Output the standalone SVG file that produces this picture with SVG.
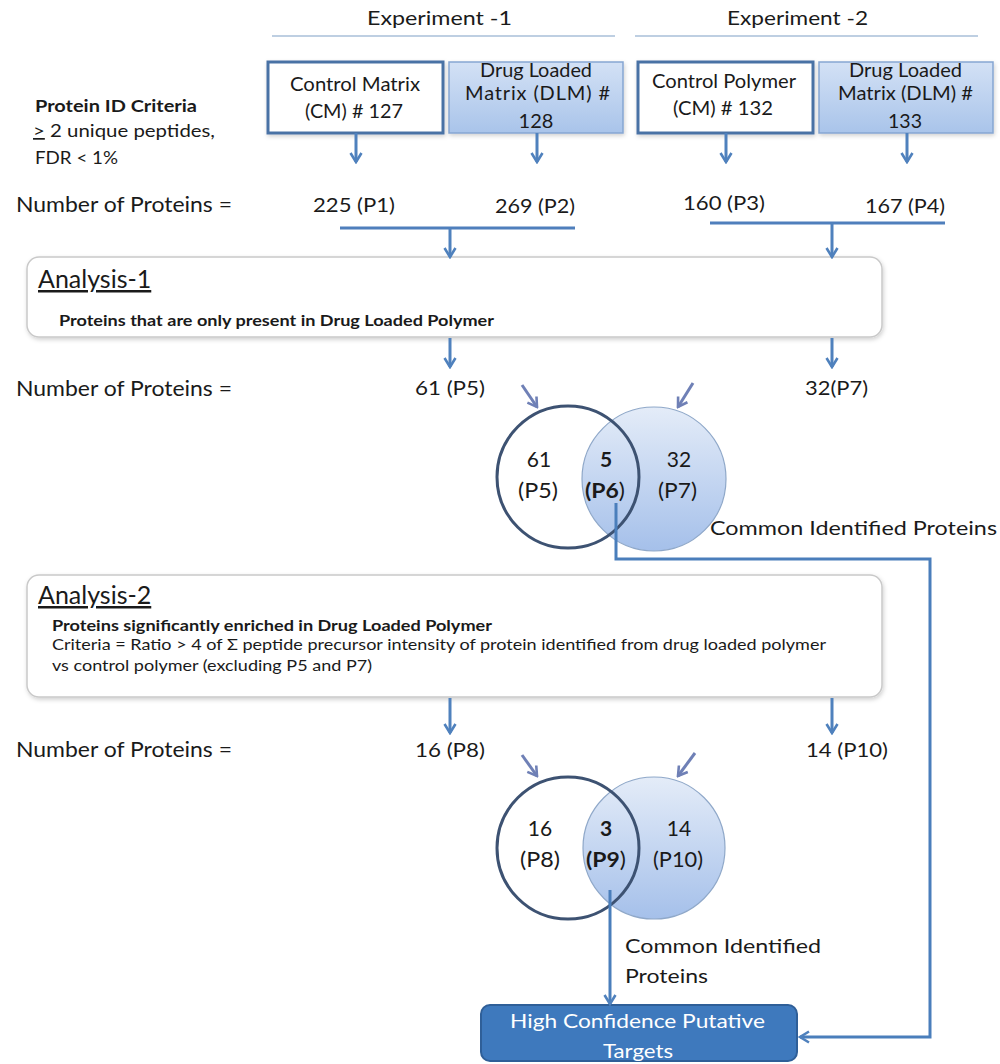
<svg xmlns="http://www.w3.org/2000/svg" width="1000" height="1064" viewBox="0 0 1000 1064">
<defs>
<style>
text{font-family:Lato,"Liberation Sans",sans-serif;fill:#1a1a1a}
.t20{font-size:20px}
.t21{font-size:21px}
.t22{font-size:22px}
.mid{text-anchor:middle}
.b{font-weight:bold}
.hl{stroke:#7f9fc6;stroke-width:1.2}
.obox{fill:#fff;stroke:#4a72a5;stroke-width:3}
.fbox{fill:url(#gBox);stroke:#86a6d2;stroke-width:1.5}
.abox{fill:#fff;stroke:#c9c9c9;stroke-width:1.5}
.arr{stroke:#4f81bd;stroke-width:3;fill:none;marker-end:url(#ah)}
.darr{stroke:#6f80b6;stroke-width:3;fill:none;marker-end:url(#ah2)}
.bar{stroke:#4f7fbc;stroke-width:3;fill:none}
.con{stroke:#4a7ebb;stroke-width:3;fill:none}
</style>
<linearGradient id="gBox" x1="0" y1="0" x2="0" y2="1">
<stop offset="0" stop-color="#d3e1f5"/>
<stop offset="1" stop-color="#a9c4ea"/>
</linearGradient>
<linearGradient id="gCirc" x1="0" y1="0" x2="0" y2="1">
<stop offset="0" stop-color="#e4ecf8"/>
<stop offset="1" stop-color="#a5c0ea"/>
</linearGradient>
<filter id="sh" x="-5%" y="-10%" width="110%" height="130%">
<feDropShadow dx="1" dy="2" stdDeviation="2" flood-color="#000" flood-opacity="0.18"/>
</filter>
<marker id="ah" markerWidth="14" markerHeight="14" viewBox="0 0 14 14" refX="12" refY="7" orient="auto" markerUnits="userSpaceOnUse">
<path d="M3,1.5 L12,7 L3,12.5" fill="none" stroke="#4f81bd" stroke-width="2.6"/>
</marker>
<marker id="ah2" markerWidth="14" markerHeight="14" viewBox="0 0 14 14" refX="12" refY="7" orient="auto" markerUnits="userSpaceOnUse">
<path d="M3,1.5 L12,7 L3,12.5" fill="none" stroke="#6f80b6" stroke-width="2.6"/>
</marker>
</defs>
<rect width="1000" height="1064" fill="#fff"/>

<g id="exp1">
<text class="t20" x="367" y="25" textLength="145" lengthAdjust="spacingAndGlyphs">Experiment -1</text>
<line class="hl" x1="272" y1="36" x2="615" y2="36"/>
</g>
<g id="exp2">
<text class="t20" x="727" y="25" textLength="141" lengthAdjust="spacingAndGlyphs">Experiment -2</text>
<line class="hl" x1="635" y1="36" x2="978" y2="36"/>
</g>

<g id="cm127">
<rect class="obox" x="268" y="62" width="175" height="71" filter="url(#sh)"/>
<text class="t20" x="290" y="91" textLength="130" lengthAdjust="spacingAndGlyphs">Control Matrix</text>
<text class="t20" x="305" y="118" textLength="98" lengthAdjust="spacingAndGlyphs">(CM) # 127</text>
</g>
<g id="dlm128">
<rect class="fbox" x="449" y="62" width="174" height="71" filter="url(#sh)"/>
<text class="t20" x="480" y="77" textLength="112" lengthAdjust="spacingAndGlyphs">Drug Loaded</text>
<text class="t20" x="465" y="100" textLength="145" lengthAdjust="spacing">Matrix (DLM) #</text>
<text class="t20 mid" x="536" y="128">128</text>
</g>
<g id="cp132">
<rect class="obox" x="638" y="62" width="175" height="71" filter="url(#sh)"/>
<text class="t20" x="652" y="88" textLength="144" lengthAdjust="spacingAndGlyphs">Control Polymer</text>
<text class="t20" x="673" y="115" textLength="100" lengthAdjust="spacingAndGlyphs">(CM) # 132</text>
</g>
<g id="dlm133">
<rect class="fbox" x="819" y="62" width="174" height="71" filter="url(#sh)"/>
<text class="t20" x="849" y="77" textLength="113" lengthAdjust="spacingAndGlyphs">Drug Loaded</text>
<text class="t20" x="838" y="100" textLength="135" lengthAdjust="spacingAndGlyphs">Matrix (DLM) #</text>
<text class="t20" x="888" y="128" textLength="34" lengthAdjust="spacingAndGlyphs">133</text>
</g>

<g id="criteria">
<text class="b" x="35" y="112" font-size="17" textLength="162" lengthAdjust="spacingAndGlyphs">Protein ID Criteria</text>
<text x="33" y="137" font-size="17" textLength="182" lengthAdjust="spacingAndGlyphs"><tspan text-decoration="underline">&gt;</tspan> 2 unique peptides,</text>
<text x="35" y="164" font-size="17" textLength="83" lengthAdjust="spacingAndGlyphs">FDR &lt; 1%</text>
</g>

<g id="row1">
<text class="t22" x="16" y="212" textLength="216" lengthAdjust="spacingAndGlyphs">Number of Proteins =</text>
<text class="t20" x="313" y="212" textLength="82" lengthAdjust="spacingAndGlyphs">225 (P1)</text>
<text class="t20" x="495" y="213" textLength="80" lengthAdjust="spacingAndGlyphs">269 (P2)</text>
<text class="t20" x="683" y="210" textLength="82" lengthAdjust="spacingAndGlyphs">160 (P3)</text>
<text class="t20" x="865" y="213" textLength="80" lengthAdjust="spacingAndGlyphs">167 (P4)</text>
</g>

<g id="analysis1">
<rect class="abox" x="27" y="257" width="855" height="80" rx="12" filter="url(#sh)"/>
<text x="38" y="288" font-size="25" text-decoration="underline">Analysis-1</text>
<text class="b" x="59" y="326" font-size="15" textLength="435" lengthAdjust="spacingAndGlyphs">Proteins that are only present in Drug Loaded Polymer</text>
</g>

<g id="row2">
<text class="t22" x="16" y="396" textLength="216" lengthAdjust="spacingAndGlyphs">Number of Proteins =</text>
<text class="t20" x="415" y="395" textLength="70" lengthAdjust="spacingAndGlyphs">61 (P5)</text>
<text class="t20" x="805" y="395" textLength="63" lengthAdjust="spacingAndGlyphs">32(P7)</text>
</g>

<g id="venn1">
<circle cx="568" cy="477" r="71" fill="#fff"/>
<circle cx="654" cy="479" r="72" fill="url(#gCirc)" stroke="#8fa8c9" stroke-width="1.2"/>
<circle cx="568" cy="477" r="71" fill="none" stroke="#3d5272" stroke-width="3"/>
<text class="t21 mid" x="539" y="467">61</text>
<text class="t21" x="518" y="498" textLength="40" lengthAdjust="spacingAndGlyphs">(P5)</text>
<text class="t21 mid b" x="606" y="467">5</text>
<text class="t21" x="585" y="498" textLength="40" lengthAdjust="spacingAndGlyphs"><tspan class="b">(P6</tspan>)</text>
<text class="t21 mid" x="679" y="467">32</text>
<text class="t21" x="658" y="498" textLength="39" lengthAdjust="spacingAndGlyphs">(P7)</text>
</g>
<g id="common1">
<text class="t20" x="710" y="535" textLength="287" lengthAdjust="spacingAndGlyphs">Common Identified Proteins</text>
</g>

<g id="analysis2">
<rect class="abox" x="27" y="575" width="855" height="122" rx="12" filter="url(#sh)"/>
<text x="38" y="604" font-size="25" text-decoration="underline">Analysis-2</text>
<text class="b" x="52" y="631" font-size="15" textLength="440" lengthAdjust="spacingAndGlyphs">Proteins significantly enriched in Drug Loaded Polymer</text>
<text x="52" y="650" font-size="15" textLength="774" lengthAdjust="spacingAndGlyphs">Criteria = Ratio &gt; 4 of Σ peptide precursor intensity of protein identified  from drug loaded polymer</text>
<text x="52" y="671" font-size="15" textLength="320" lengthAdjust="spacingAndGlyphs">vs control polymer (excluding P5 and P7)</text>
</g>

<g id="row3">
<text class="t22" x="16" y="757" textLength="216" lengthAdjust="spacingAndGlyphs">Number of Proteins =</text>
<text class="t20" x="415" y="757" textLength="70" lengthAdjust="spacingAndGlyphs">16 (P8)</text>
<text class="t20" x="806" y="757" textLength="82" lengthAdjust="spacingAndGlyphs">14 (P10)</text>
</g>

<g id="venn2">
<circle cx="568" cy="848" r="71" fill="#fff"/>
<circle cx="654" cy="848" r="71" fill="url(#gCirc)" stroke="#8fa8c9" stroke-width="1.2"/>
<circle cx="568" cy="848" r="71" fill="none" stroke="#3d5272" stroke-width="3"/>
<text class="t21 mid" x="540" y="836">16</text>
<text class="t21" x="520" y="867" textLength="40" lengthAdjust="spacingAndGlyphs">(P8)</text>
<text class="t21 mid b" x="606" y="836">3</text>
<text class="t21" x="586" y="867" textLength="40" lengthAdjust="spacingAndGlyphs"><tspan class="b">(P9</tspan>)</text>
<text class="t21 mid" x="679" y="836">14</text>
<text class="t21" x="653" y="867" textLength="50" lengthAdjust="spacingAndGlyphs">(P10)</text>
</g>
<g id="common2">
<text class="t20" x="625" y="953" textLength="196" lengthAdjust="spacingAndGlyphs">Common Identified</text>
<text class="t20" x="625" y="983" textLength="83" lengthAdjust="spacingAndGlyphs">Proteins</text>
</g>

<g id="targets">
<rect x="481" y="1005" width="316" height="56" rx="9" fill="#3e79bd" stroke="#2f5f98" stroke-width="2"/>
<text class="t20" x="510" y="1028" textLength="255" lengthAdjust="spacingAndGlyphs" style="fill:#fff">High Confidence Putative</text>
<text class="t20" x="603" y="1058" textLength="70" lengthAdjust="spacingAndGlyphs" style="fill:#fff">Targets</text>
</g>

<g id="connectors">
<line class="arr" x1="356" y1="133" x2="356" y2="162"/>
<line class="arr" x1="537" y1="133" x2="537" y2="162"/>
<line class="arr" x1="726" y1="133" x2="726" y2="162"/>
<line class="arr" x1="907" y1="133" x2="907" y2="162"/>
<line class="bar" x1="340" y1="228" x2="575" y2="228"/>
<line class="arr" x1="450" y1="228" x2="450" y2="257"/>
<line class="bar" x1="710" y1="223" x2="945" y2="223"/>
<line class="arr" x1="832" y1="223" x2="832" y2="257"/>
<line class="arr" x1="450" y1="338" x2="450" y2="367"/>
<line class="arr" x1="832" y1="338" x2="832" y2="367"/>
<line class="darr" x1="522" y1="385" x2="537" y2="407"/>
<line class="darr" x1="693" y1="383" x2="678" y2="407"/>
<line class="arr" x1="450" y1="698" x2="450" y2="733"/>
<line class="arr" x1="832" y1="698" x2="832" y2="733"/>
<line class="darr" x1="522" y1="755" x2="537" y2="776"/>
<line class="darr" x1="695" y1="753" x2="678" y2="776"/>
<path class="con" d="M616,503 V559 H930 V1037 H800" marker-end="url(#ah)"/>
<path class="con" d="M610,890 V1004" marker-end="url(#ah)"/>
</g>
</svg>
